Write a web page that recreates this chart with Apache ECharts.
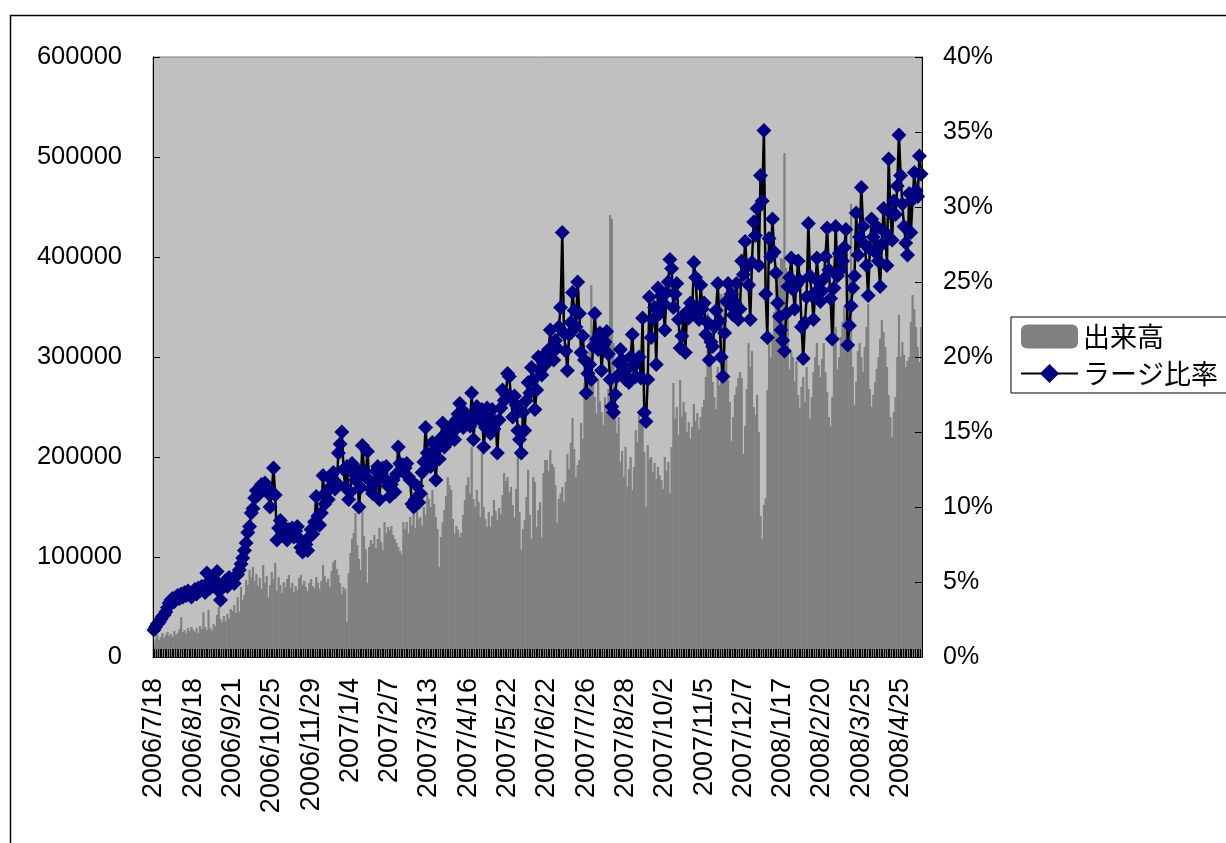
<!DOCTYPE html>
<html>
<head>
<meta charset="utf-8">
<script src="https://cdn.jsdelivr.net/npm/echarts@6/dist/echarts.min.js"></script>
<style>
  html, body { margin: 0; padding: 0; background: #fff; }
  #container { width: 1226px; height: 843px; }
</style>
</head>
<body>
<div id="container"></div>
<script>
// trading days: weekdays from start to end, minus TSE holidays
var startDate = '2006/7/18';
var endDate = '2008/5/16';
var holidays = [
    '2006/9/18', '2006/10/9', '2006/11/3', '2006/11/23',
    '2007/1/1', '2007/1/2', '2007/1/3', '2007/1/8', '2007/2/12', '2007/3/21',
    '2007/4/30', '2007/5/3', '2007/5/4', '2007/7/16', '2007/9/17', '2007/9/24',
    '2007/10/8', '2007/11/23', '2007/12/24', '2007/12/31',
    '2008/1/1', '2008/1/2', '2008/1/3', '2008/1/14', '2008/2/11', '2008/3/20',
    '2008/4/29', '2008/5/5', '2008/5/6'
];

// 出来高 (thousands of shares)
var volume = [
    12,18,22,17,20,24,19,22,25,21,23,20,26,22,24,28,40,25,27,24,29,26,30,
    27,25,29,24,31,28,45,30,27,47,29,26,33,31,42,50,38,35,41,36,43,39,48,
    46,52,44,60,45,70,57,62,77,72,87,80,90,76,83,71,79,68,92,74,81,60,72,
    85,78,94,66,80,72,64,75,70,78,82,69,74,65,71,67,79,82,72,76,70,66,74,
    78,71,69,80,74,68,76,92,81,75,78,70,86,95,97,88,82,74,63,70,68,35,84,
    104,118,124,144,112,98,87,147,121,108,74,110,117,113,122,109,118,129,115,107,135,124,130,
    127,131,122,118,114,110,106,103,135,128,135,124,140,132,143,129,147,138,140,131,150,142,163,
    158,150,167,153,140,128,90,120,135,147,161,180,172,167,138,123,131,127,120,124,142,157,172,
    180,163,210,158,150,167,155,140,204,150,138,130,145,130,141,157,146,137,149,143,162,184,176,
    180,165,170,152,140,168,203,145,107,128,137,160,187,142,118,180,175,130,147,155,120,184,197,
    197,186,207,193,190,172,134,158,164,170,155,175,203,188,214,239,208,180,192,197,234,218,274,
    262,290,318,372,285,260,244,277,256,245,232,260,249,268,442,438,314,260,224,240,195,206,180,
    210,170,188,200,167,190,227,215,247,238,233,205,150,212,198,200,185,194,178,190,182,177,168,
    200,186,195,164,210,274,238,250,222,277,240,255,245,225,235,218,230,253,236,244,228,240,250,
    257,280,344,305,320,275,260,248,290,272,363,340,364,300,277,255,216,240,262,270,279,285,279,
    203,231,268,314,290,306,250,242,262,225,141,118,152,159,267,314,300,320,345,371,389,380,399,
    398,504,389,350,288,305,300,276,296,262,249,270,280,255,290,268,238,260,285,300,314,292,280,
    298,314,285,265,240,231,260,356,330,288,300,320,335,350,342,356,380,453,290,252,275,306,314,
    300,285,310,330,353,268,250,262,275,288,300,318,337,325,310,290,262,240,220,245,260,300,342,
    300,315,302,290,296,300,335,362,348,330,310,295,330
];

// ラージ比率 (%)
var largeRatio = [
    1.8,2.0,2.2,2.3,2.5,2.7,2.8,3.0,3.3,3.6,3.8,3.9,3.7,4.0,4.1,3.9,4.2,4.0,4.3,4.1,4.4,4.2,4.0,
    4.3,4.5,4.2,4.6,4.4,4.7,4.5,4.3,5.6,5.0,4.6,4.8,5.2,5.0,5.7,4.4,3.8,4.6,4.9,5.1,4.7,5.3,5.0,
    5.2,4.9,5.4,5.5,5.8,6.2,6.6,7.1,7.6,8.3,8.7,9.6,9.9,10.6,11.1,10.8,11.2,11.5,11.3,11.6,11.2,10.9,10.0,
    11.0,12.6,10.8,7.8,8.6,9.1,8.4,8.7,8.3,7.8,8.5,8.2,8.6,8.0,8.4,8.7,7.9,7.3,7.0,7.2,7.5,7.1,8.0,
    8.5,8.2,9.0,10.7,9.4,8.8,9.6,12.1,10.2,11.0,10.5,11.3,11.8,12.3,11.2,11.6,13.6,14.2,15.0,12.5,11.3,12.7,10.5,
    11.0,12.9,12.2,11.8,12.5,10.0,11.3,14.1,12.4,12.0,13.7,11.8,11.2,10.9,11.6,12.4,12.7,10.5,12.3,12.6,11.9,12.7,11.4,
    10.7,11.5,11.8,11.0,12.2,14.0,12.9,12.5,12.8,12.6,12.9,12.0,11.8,10.2,10.0,10.5,11.4,10.3,10.9,12.3,13.0,15.3,13.6,
    13.0,12.7,14.3,13.4,11.8,13.9,13.2,14.6,15.6,14.0,14.8,14.3,15.3,14.7,15.0,14.5,15.8,16.2,16.9,15.6,15.3,16.3,15.8,
    16.0,15.4,17.6,14.5,15.9,16.7,16.2,15.8,16.5,14.0,15.3,16.6,15.9,14.9,16.5,15.2,15.7,13.6,15.8,16.6,17.8,17.1,17.5,
    18.9,18.7,17.3,16.0,17.4,16.8,15.1,14.5,13.6,16.3,15.1,17.1,18.3,17.6,19.3,18.5,16.5,17.8,20.0,19.1,18.8,19.6,20.2,
    19.6,20.5,21.8,20.3,19.8,21.1,20.6,22.0,23.3,28.3,21.6,20.4,19.1,21.5,22.3,24.3,23.1,22.0,25.0,22.9,20.3,21.4,19.8,
    17.6,18.9,19.5,18.5,20.7,22.9,21.2,20.5,21.6,19.1,20.8,21.0,21.7,20.2,18.5,16.7,16.3,17.5,18.7,19.6,20.5,19.8,19.0,
    18.5,19.2,18.3,20.0,21.5,19.4,18.7,19.8,20.0,18.6,22.6,16.3,15.7,18.5,24.0,21.3,22.5,23.3,19.5,24.6,22.9,24.1,23.6,
    21.8,24.3,25.0,26.5,25.9,23.3,24.2,24.9,22.5,20.6,21.4,22.8,20.3,23.0,22.6,23.6,22.9,26.3,25.3,23.1,22.5,24.8,23.2,
    23.6,21.5,22.3,19.8,21.0,20.7,22.0,23.1,24.9,22.4,20.0,18.7,21.6,23.7,24.9,23.5,24.2,22.8,23.6,24.9,22.5,23.2,26.4,
    25.5,27.7,26.0,24.8,22.5,26.3,29.0,28.1,29.9,26.1,32.1,30.4,35.1,24.2,21.3,27.9,26.7,29.2,27.0,25.6,23.6,22.7,21.8,
    21.1,20.4,22.9,24.7,25.3,26.6,24.5,23.2,24.8,26.4,25.1,22.0,19.9,22.3,24.0,28.9,25.4,24.1,22.5,24.3,26.6,25.0,23.7,
    24.4,25.2,26.7,28.6,25.8,23.9,21.2,24.6,28.7,25.4,26.9,25.8,26.4,27.3,28.5,20.8,22.1,23.4,24.6,25.4,29.6,26.8,28.0,
    31.3,28.7,27.5,26.1,24.1,27.2,29.2,28.0,27.0,28.7,26.4,24.7,27.5,29.9,28.3,26.1,33.2,29.6,27.8,30.4,29.5,31.4,34.8,
    32.1,30.2,28.7,27.6,26.8,30.9,28.3,30.5,32.3,31.1,30.7,33.4,32.2
];

function fmtDate(d) {
    return d.getFullYear() + '/' + (d.getMonth() + 1) + '/' + d.getDate();
}

function tradingDays() {
    var days = [];
    var d = new Date(startDate);
    var end = new Date(endDate);
    while (d <= end) {
        var s = fmtDate(d);
        if (d.getDay() != 0 && d.getDay() != 6 && holidays.indexOf(s) < 0)
            days.push(s);
        d.setDate(d.getDate() + 1);
    }
    return days;
}

var dates = tradingDays();
var numFont = 'Liberation Sans, Arial, sans-serif';

var myChart = echarts.init(document.getElementById('container'));
var option = {
    animation: false,
    backgroundColor: '#ffffff',
    graphic: [{
        type: 'rect',
        shape: { x: 10.5, y: 15.5, width: 1400, height: 1000 },
        style: { fill: 'none', stroke: '#000', lineWidth: 1.5 },
        silent: true
    }],
    grid: {
        left: 153, right: 304, top: 57, bottom: 186,
        show: true,
        backgroundColor: '#c0c0c0',
        borderColor: '#808080',
        borderWidth: 1
    },
    legend: {
        orient: 'vertical',
        left: 1011,
        top: 317,
        padding: [6, 60, 6, 9],
        itemGap: 10,
        itemWidth: 57,
        itemHeight: 24,
        borderColor: '#000',
        borderWidth: 1,
        textStyle: { fontFamily: 'Noto Sans CJK JP', fontSize: 27, color: '#000' },
        data: ['出来高', 'ラージ比率']
    },
    xAxis: [{
        type: 'category',
        data: dates,
        boundaryGap: true,
        z: 10,
        axisLine: { lineStyle: { color: '#000', width: 1 } },
        axisTick: { show: false },
        axisLabel: {
            interval: 22,
            rotate: 90,
            margin: 21,
            fontFamily: numFont,
            fontSize: 27,
            color: '#000'
        },
        splitLine: { show: false }
    }, {
        // one tick per trading day, as the dense tick band along the bottom
        type: 'value',
        position: 'bottom',
        min: 0,
        max: dates.length,
        interval: 1,
        z: 10,
        axisLine: { show: false },
        axisTick: { show: true, inside: true, length: 8, lineStyle: { color: '#000', width: 1 } },
        axisLabel: { show: false },
        splitLine: { show: false }
    }],
    yAxis: [{
        type: 'value',
        min: 0,
        max: 600000,
        interval: 100000,
        z: 10,
        axisLine: { show: true, lineStyle: { color: '#000', width: 1 } },
        axisTick: { show: true, inside: true, length: 7, lineStyle: { color: '#000' } },
        axisLabel: {
            margin: 31, fontFamily: numFont, fontSize: 25.5, color: '#000',
            formatter: function (v) { return String(v); }
        },
        splitLine: { show: false }
    }, {
        type: 'value',
        min: 0,
        max: 40,
        interval: 5,
        position: 'right',
        z: 10,
        axisLine: { show: true, lineStyle: { color: '#000', width: 1 } },
        axisTick: { show: true, inside: true, length: 7, lineStyle: { color: '#000' } },
        axisLabel: { margin: 21, fontFamily: numFont, fontSize: 25, color: '#000', formatter: '{value}%' },
        splitLine: { show: false }
    }],
    series: [{
        name: '出来高',
        type: 'bar',
        xAxisIndex: 0,
        yAxisIndex: 0,
        barCategoryGap: '-30%',
        itemStyle: { color: '#808080' },
        data: volume.map(function (v) { return v * 1000; })
    }, {
        name: 'ラージ比率',
        type: 'line',
        xAxisIndex: 0,
        yAxisIndex: 1,
        symbol: 'diamond',
        symbolSize: 15,
        showAllSymbol: true,
        z: 5,
        lineStyle: { color: '#000', width: 2.5 },
        itemStyle: { color: '#000080', borderColor: '#000080', borderWidth: 0 },
        data: largeRatio
    }]
};
myChart.setOption(option);
</script>
</body>
</html>
